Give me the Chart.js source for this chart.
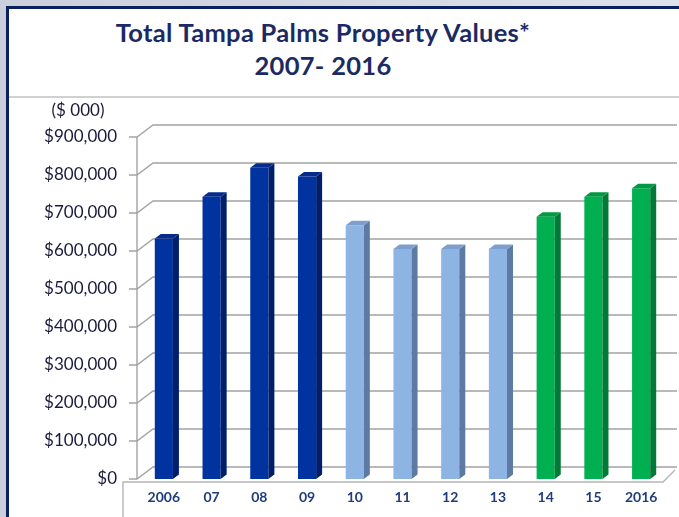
<html><head>
<title>Total Tampa Palms Property Values</title>
<script src="https://cdn.jsdelivr.net/npm/chart.js"></script>
<style>
  body {
    margin: 0;
    width: 679px;
    height: 517px;
    overflow: hidden;
    background: linear-gradient(90deg, #c9d0dc, #dde2ea);
    font-family: Lato, "Open Sans", sans-serif;
  }
  #frame {
    position: absolute;
    left: 6px; top: 6px; right: 0; bottom: 0;
    background: #fff;
    border-left: 3px solid #0c1f5e;
    border-top: 3px solid #0c1f5e;
  }
  #sep {
    position: absolute;
    left: 9px; right: 0; top: 96px;
    height: 2px;
    background: #d0d0d0;
  }
  .title {
    position: absolute;
    left: 0; width: 646px;
    text-align: center;
    color: #1b2a63;
    font-weight: bold;
    font-size: 25.5px;
    letter-spacing: 0.3px;
    line-height: 33px;
    top: 16px;
  }
  #chart {
    position: absolute;
    left: 0; top: 0;
  }
</style>
</head>
<body>
<div id="frame"></div>
<div id="sep"></div>
<div class="title">Total Tampa Palms Property Values*<br>2007- 2016</div>
<canvas id="chart" width="679" height="517"></canvas>

<script>
const years = ['2006', '07', '08', '09', '10', '11', '12', '13', '14', '15', '2016'];
const values = [633000, 743000, 819000, 796000, 668000, 605000, 605000, 605000, 690000, 743000, 765000];
const yTicks = [0, 100000, 200000, 300000, 400000, 500000, 600000, 700000, 800000, 900000];
const unitLabel = '($ 000)';

// front / side / top colours for the three periods
const darkBlue = ['#0033a0', '#001f6b', '#062b8c'];
const lightBlue = ['#8db4e2', '#5b7ba3', '#7c9fcc'];
const green = ['#00b050', '#007a36', '#009a45'];

function shade(i) {
  if (i < 4) return darkBlue;
  if (i < 8) return lightBlue;
  return green;
}

const DX = 16, DY = 12;   // depth of the back wall
const BX = 6, BY = 4.5;   // depth of each column

const depth3d = {
  id: 'depth3d',
  beforeDatasetsDraw(chart) {
    const {ctx, chartArea: a, scales: {y}} = chart;
    const ax = a.left - 3;
    ctx.save();
    ctx.strokeStyle = '#a3a3a3';
    ctx.lineWidth = 1.4;
    yTicks.forEach(v => {
      const py = y.getPixelForValue(v);
      ctx.beginPath();
      ctx.moveTo(ax - 8, py);
      ctx.lineTo(ax, py);
      ctx.lineTo(ax + DX, py - DY);
      ctx.lineTo(a.right + 12, py - DY);
      ctx.stroke();
    });
    ctx.beginPath();
    ctx.moveTo(ax, y.getPixelForValue(yTicks[yTicks.length - 1]));
    ctx.lineTo(ax, y.getPixelForValue(0));
    ctx.stroke();

    // floor front edge and label box
    const fy = y.getPixelForValue(0) + 3;
    ctx.strokeStyle = '#b5b5b5';
    ctx.beginPath();
    ctx.moveTo(123, chart.height);
    ctx.lineTo(123, fy);
    ctx.lineTo(a.right - 2, fy);
    ctx.lineTo(a.right + 10, fy - DY);
    ctx.stroke();

    ctx.fillStyle = '#1a1a3c';
    ctx.font = '17px Lato, sans-serif';
    ctx.textAlign = 'center';
    ctx.textBaseline = 'middle';
    ctx.fillText(unitLabel, 78, 111);
    ctx.restore();
  },
  afterDatasetsDraw(chart) {
    const {ctx} = chart;
    const meta = chart.getDatasetMeta(0);
    ctx.save();
    meta.data.forEach((bar, i) => {
      const c = shade(i);
      const l = bar.x - bar.width / 2, r = bar.x + bar.width / 2;
      const t = bar.y, b = bar.base;
      ctx.fillStyle = c[1];
      ctx.beginPath();
      ctx.moveTo(r, t);
      ctx.lineTo(r + BX, t - BY);
      ctx.lineTo(r + BX, b - BY);
      ctx.lineTo(r, b);
      ctx.closePath();
      ctx.fill();
      ctx.fillStyle = c[2];
      ctx.beginPath();
      ctx.moveTo(l, t);
      ctx.lineTo(l + BX, t - BY);
      ctx.lineTo(r + BX, t - BY);
      ctx.lineTo(r, t);
      ctx.closePath();
      ctx.fill();
    });
    ctx.restore();
  }
};

new Chart(document.getElementById('chart'), {
  type: 'bar',
  data: {
    labels: years,
    datasets: [{
      data: values,
      backgroundColor: years.map((_, i) => shade(i)[0]),
      borderWidth: 0,
      barPercentage: 0.76,
      categoryPercentage: 0.5
    }]
  },
  options: {
    responsive: false,
    animation: false,
    devicePixelRatio: 1,
    layout: { padding: { top: 137, right: 14, left: 0, bottom: 0 } },
    plugins: {
      legend: { display: false },
      tooltip: { enabled: false }
    },
    scales: {
      x: {
        grid: { display: false, drawTicks: false },
        border: { display: false },
        ticks: {
          color: '#1f3d7a',
          font: { family: 'Lato', size: 14, weight: 'bold' },
          padding: 10,
          maxRotation: 0,
          autoSkip: false
        },
        afterFit(scale) {
          scale.height = 38;
          scale.paddingLeft = 0;
          scale.paddingRight = 0;
        }
      },
      y: {
        min: 0,
        max: 900000,
        grid: { display: false, drawTicks: false },
        border: { display: false },
        afterBuildTicks(scale) {
          scale.ticks = yTicks.map(v => ({ value: v }));
        },
        ticks: {
          color: '#1a1a3c',
          font: { family: 'Lato', size: 17 },
          padding: 23,
          callback: v => '$' + v.toLocaleString('en-US')
        },
        afterFit(scale) {
          scale.width = 140;
        }
      }
    }
  },
  plugins: [depth3d]
});
</script>
</body></html>
